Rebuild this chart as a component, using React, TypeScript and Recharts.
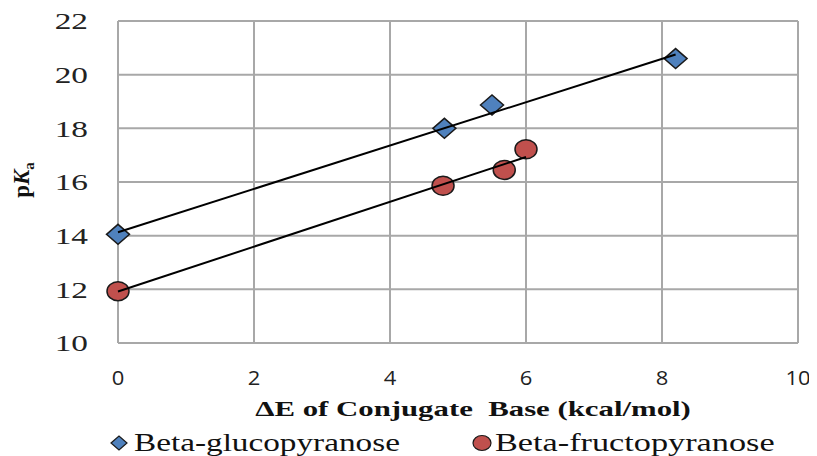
import React from "react";
import { ScatterChart, Scatter, XAxis, YAxis, CartesianGrid } from "recharts";

const glucoX = [0, 4.8, 5.5, 8.2];
const glucoY = [14.05, 18.0, 18.87, 20.6];
const fructoX = [0, 4.78, 5.68, 6.0];
const fructoY = [11.93, 15.86, 16.45, 17.22];
const glucoTrendX = [0, 8.2];
const glucoTrendY = [14.13, 20.75];
const fructoTrendX = [0, 6.0];
const fructoTrendY = [11.92, 16.93];
const xTicks = [0, 2, 4, 6, 8, 10];
const yTicks = [10, 12, 14, 16, 18, 20, 22];
const seriesNames = ["Beta-glucopyranose", "Beta-fructopyranose"];
const xTitle = "ΔE of Conjugate  Base (kcal/mol)";

const toPts = (xs: number[], ys: number[]) => xs.map((x, i) => ({ x, y: ys[i] }));
const glucoData = toPts(glucoX, glucoY);
const fructoData = toPts(fructoX, fructoY);
const glucoTrend = toPts(glucoTrendX, glucoTrendY);
const fructoTrend = toPts(fructoTrendX, fructoTrendY);

const BLUE = "#4F81BD";
const RED = "#C0504D";
const GRID = "#a8a8a8";
const serifText = "'Liberation Serif', 'Times New Roman', serif";

const Diamond = (props: any) => {
  const { cx, cy } = props;
  const w = 11.5, h = 10;
  return (
    <polygon
      points={`${cx - w},${cy} ${cx},${cy - h} ${cx + w},${cy} ${cx},${cy + h}`}
      fill={BLUE}
      stroke="#1a1a1a"
      strokeWidth={1.5}
    />
  );
};

const Circ = (props: any) => {
  const { cx, cy } = props;
  return <ellipse cx={cx} cy={cy} rx={11} ry={9.5} fill={RED} stroke="#1a1a1a" strokeWidth={1.5} />;
};

const NoShape = () => <g />;

const XTitle = (props: any) => {
  const vb = props.viewBox || {};
  const cx = vb.x + vb.width / 2 + 15;
  const cy = vb.y + 73;
  return (
    <text
      transform={`translate(${cx},${cy}) scale(1.4,1)`}
      x={0}
      y={0}
      textAnchor="middle"
      style={{ whiteSpace: "pre", fontFamily: serifText, fontWeight: 700, fontSize: 22 }}
      fill="#111"
    >
      {xTitle}
    </text>
  );
};

const YTitle = () => (
  <text
    transform="translate(21,172) rotate(-90)"
    textAnchor="middle"
    style={{ fontFamily: serifText, fontWeight: 700, fontSize: 23 }}
    fill="#111"
  >
    <tspan>p</tspan>
    <tspan fontStyle="italic">K</tspan>
    <tspan fontSize={15} dy={5}>a</tspan>
  </text>
);

const YTick = (props: any) => {
  const { x, y, payload } = props;
  return (
    <text
      transform={`translate(${x},${y}) scale(1.45,1)`}
      x={0}
      y={0}
      dy="0.36em"
      textAnchor="end"
      style={{ fontFamily: serifText, fontSize: 23 }}
      fill="#222"
    >
      {payload.value}
    </text>
  );
};

const XTick = (props: any) => {
  const { x, y, payload } = props;
  return (
    <text
      transform={`translate(${x},${y}) scale(1.1,1)`}
      x={0}
      y={0}
      dy="0.71em"
      textAnchor="middle"
      style={{ fontFamily: "'Open Sans', sans-serif", fontSize: 20 }}
      fill="#222"
    >
      {payload.value}
    </text>
  );
};

const legendLabel: React.CSSProperties = {
  display: "inline-block",
  transform: "scaleX(1.33)",
  transformOrigin: "left center",
};

export default function App() {
  return (
    <div style={{ position: "relative", width: 809, height: 448 }}>
      <ScatterChart width={809} height={448} margin={{ top: 13, right: 19, left: 0, bottom: 0 }}>
        <CartesianGrid stroke={GRID} strokeWidth={2} />
        <XAxis
          type="number"
          dataKey="x"
          domain={[0, 10]}
          ticks={xTicks}
          height={113}
          tickSize={0}
          tickMargin={28}
          axisLine={{ stroke: GRID, strokeWidth: 2 }}
          tickLine={false}
          tick={<XTick />}
          label={<XTitle />}
        />
        <YAxis
          type="number"
          dataKey="y"
          domain={[10, 22]}
          ticks={yTicks}
          width={110}
          tickSize={0}
          tickMargin={30}
          axisLine={{ stroke: GRID, strokeWidth: 2 }}
          tickLine={false}
          tick={<YTick />}
          label={<YTitle />}
        />
        <Scatter name={seriesNames[0]} data={glucoData} shape={<Diamond />} isAnimationActive={false} />
        <Scatter name={seriesNames[1]} data={fructoData} shape={<Circ />} isAnimationActive={false} />
        <Scatter
          data={glucoTrend}
          line={{ stroke: "#000", strokeWidth: 2 }}
          shape={<NoShape />}
          isAnimationActive={false}
          legendType="none"
        />
        <Scatter
          data={fructoTrend}
          line={{ stroke: "#000", strokeWidth: 2 }}
          shape={<NoShape />}
          isAnimationActive={false}
          legendType="none"
        />
      </ScatterChart>
      <div
        style={{
          position: "absolute",
          left: 0,
          top: 422,
          width: 809,
          height: 26,
          fontSize: 25,
          lineHeight: "26px",
          color: "#111",
          fontFamily: serifText,
        }}
      >
        <div style={{ position: "absolute", left: 101, top: 0, display: "flex", alignItems: "center", whiteSpace: "nowrap" }}>
          <svg width={20} height={18} style={{ marginRight: 5 }}>
            <polygon points="2,9 10,2 18,9 10,16" fill={BLUE} stroke="#1a1a1a" strokeWidth={1.2} />
          </svg>
          <span style={legendLabel}>{seriesNames[0]}</span>
        </div>
        <div style={{ position: "absolute", left: 464, top: 0, display: "flex", alignItems: "center", whiteSpace: "nowrap" }}>
          <svg width={20} height={18} style={{ marginRight: 3 }}>
            <ellipse cx={10} cy={9} rx={9} ry={7.5} fill={RED} stroke="#1a1a1a" strokeWidth={1.2} />
          </svg>
          <span style={{ ...legendLabel, transform: "scaleX(1.37)" }}>{seriesNames[1]}</span>
        </div>
      </div>
    </div>
  );
}
